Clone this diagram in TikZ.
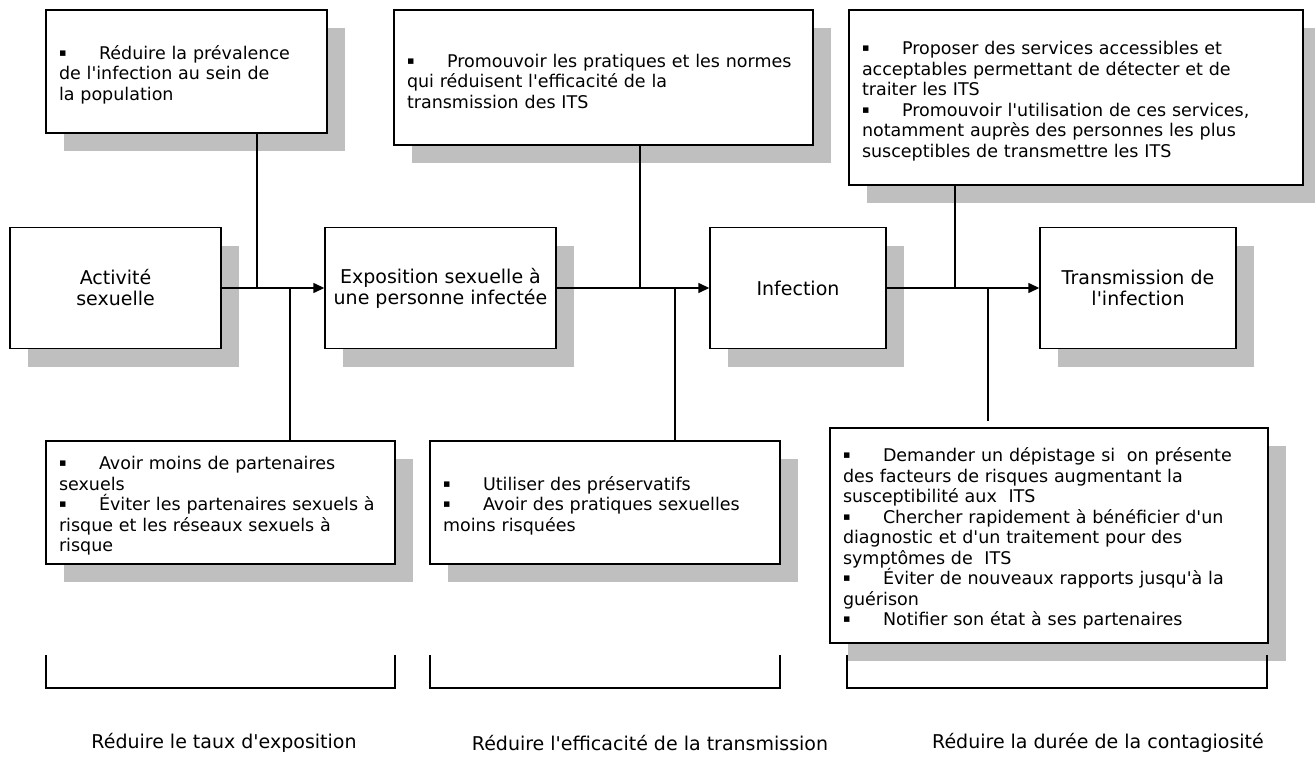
\documentclass[tikz,border=0pt]{standalone}
\usepackage{fontspec}
\setmainfont{DejaVu Sans}[Ligatures=TeXOff]
\usetikzlibrary{arrows.meta,shadows}

\newcommand{\puce}{\par\hangindent=40pt\hangafter=1\noindent\makebox[40pt][l]{\raisebox{3pt}{\fontsize{11}{11}\selectfont ▪}}}

\begin{document}
\begin{tikzpicture}
          [x=1pt,y=-1pt,
           boite/.style={draw,line width=1.4pt,fill=white,
             drop shadow={shadow xshift=18pt,shadow yshift=-18pt,fill=black!25,opacity=1}},
           etape/.style={boite,align=center,minimum height=121pt,font=\fontsize{19}{21}\selectfont},
           liste/.style={boite,align=left,inner xsep=13pt,font=\fontsize{17.5}{20.5}\selectfont},
           fleche/.style={line width=1.4pt,-{Triangle[length=11pt,width=10pt]}},
           trait/.style={line width=1.4pt},
           crochet/.style={line width=1.3pt},
           titre/.style={font=\fontsize{19}{21}\selectfont}]

          \useasboundingbox (0,0) rectangle (1315,757);

          % etapes
          \node[etape,minimum width=211pt] (activite) at (115.5,288) {Activité\\sexuelle};
          \node[etape,minimum width=231pt] (exposition) at (440.5,288) {Exposition sexuelle à\\une personne infectée};
          \node[etape,minimum width=176pt] (infection) at (798,288) {Infection};
          \node[etape,minimum width=196pt] (transmission) at (1138,288) {Transmission de\\l'infection};

          % interventions en haut
          \node[liste,text width=255pt,minimum height=123pt] (prevalence) at (186.5,71.5)
            {\puce Réduire la prévalence\\de l'infection au sein de\\la population};
          \node[liste,text width=393pt,minimum height=135pt] (pratiques) at (603.5,77.5)
            {\puce Promouvoir les pratiques et les normes\\qui réduisent l'efficacité de la\\transmission des ITS};
          \node[liste,text width=428pt,minimum height=175pt] (services) at (1076,97.5)
            {\puce Proposer des services accessibles et\\acceptables permettant de détecter et de\\traiter les ITS
             \puce Promouvoir l'utilisation de ces services,\\notamment auprès des personnes les plus\\susceptibles de transmettre les ITS};

          % interventions en bas
          \node[liste,text width=323pt,minimum height=123pt] (partenaires) at (220.5,502.5)
            {\puce Avoir moins de partenaires\\sexuels
             \puce Éviter les partenaires sexuels à\\risque et les réseaux sexuels à\\risque};
          \node[liste,text width=324pt,minimum height=123pt] (preservatifs) at (605,502.5)
            {\puce Utiliser des préservatifs
             \puce Avoir des pratiques sexuelles\\moins risquées};
          \node[liste,text width=412pt,minimum height=215pt] (depistage) at (1049,535.5)
            {\puce Demander un dépistage si~ on présente\\des facteurs de risques augmentant la\\susceptibilité aux~ ITS
             \puce Chercher rapidement à bénéficier d'un\\diagnostic et d'un traitement pour des\\symptômes de~ ITS
             \puce Éviter de nouveaux rapports jusqu'à la\\guérison
             \puce Notifier son état à ses partenaires};

          % jonctions sur la ligne principale
          \coordinate (j1) at (257,288);
          \coordinate (j2) at (290,288);
          \coordinate (j3) at (640,288);
          \coordinate (j4) at (675,288);
          \coordinate (j5) at (955,288);
          \coordinate (j6) at (988,288);

          \draw[fleche] (activite) -- (exposition);
          \draw[fleche] (exposition) -- (infection);
          \draw[fleche] (infection) -- (transmission);

          \draw[trait] (prevalence.south -| j1) -- (j1);
          \draw[trait] (j2) -- (partenaires.north -| j2);
          \draw[trait] (pratiques.south -| j3) -- (j3);
          \draw[trait] (j4) -- (preservatifs.north -| j4);
          \draw[trait] (services.south -| j5) -- (j5);
          \draw[trait,shorten >=6pt] (j6) -- (depistage.north -| j6);

          % crochets et objectifs
          \draw[crochet] (46,655) |- (395,688) -- (395,655);
          \draw[crochet] (430,655) |- (780,688) -- (780,655);
          \draw[crochet] (847,655) |- (1267,688) -- (1267,655);

          \node[titre] (objectif1) at (224,743) {Réduire le taux d'exposition};
          \node[titre] (objectif2) at (650,743) {Réduire l'efficacité de la transmission};
          \node[titre] (objectif3) at (1098,743) {Réduire la durée de la contagiosité};
        \end{tikzpicture}
\end{document}
